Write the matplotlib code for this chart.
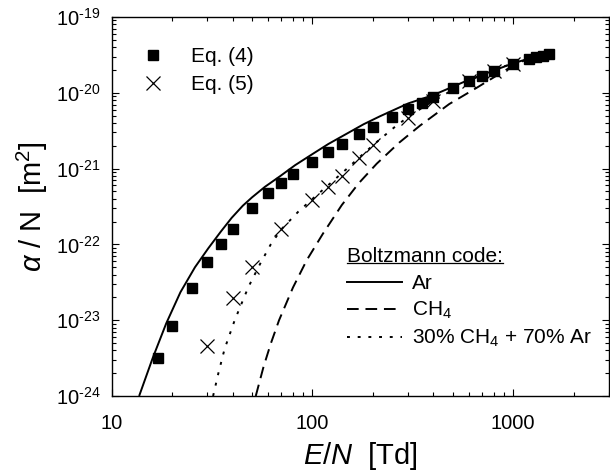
import numpy as np
import matplotlib
matplotlib.use("Agg")
import matplotlib.pyplot as plt
from matplotlib.ticker import FuncFormatter, NullFormatter, LogLocator, FixedLocator
from matplotlib.lines import Line2D

plt.rcParams['font.family'] = ['Liberation Sans', 'DejaVu Sans']
plt.rcParams['mathtext.fontset'] = 'custom'
plt.rcParams['mathtext.rm'] = 'Liberation Sans'
plt.rcParams['mathtext.it'] = 'Liberation Sans:italic'
plt.rcParams['mathtext.bf'] = 'Liberation Sans:bold'

# Eq. (4) - squares
E_eq4 = [17, 20, 25, 30, 35, 40, 50, 60, 70, 80, 100, 120, 140, 170, 200, 250, 300,
         350, 400, 500, 600, 700, 800, 1000, 1200, 1300, 1400, 1500]
a_eq4 = [3.2e-24, 8.5e-24, 2.65e-23, 5.8e-23, 1.0e-22, 1.6e-22, 3.0e-22, 4.7e-22,
         6.5e-22, 8.4e-22, 1.23e-21, 1.66e-21, 2.14e-21, 2.84e-21, 3.5e-21, 4.76e-21,
         6.07e-21, 7.35e-21, 8.8e-21, 1.14e-20, 1.42e-20, 1.67e-20, 1.92e-20, 2.4e-20,
         2.8e-20, 2.99e-20, 3.1e-20, 3.25e-20]

# Eq. (5) - crosses
E_eq5 = [30, 40, 50, 70, 100, 120, 140, 170, 200, 300, 400, 600, 800, 1000]
a_eq5 = [4.56e-24, 1.98e-23, 5.07e-23, 1.6e-22, 3.8e-22, 5.74e-22, 8.0e-22, 1.36e-21,
         2.03e-21, 4.67e-21, 7.7e-21, 1.42e-20, 1.96e-20, 2.43e-20]

# Boltzmann code, Ar
E_ar = [13.7, 16, 18.7, 22, 26, 30.3, 35, 39.6, 45, 50, 58, 69, 82, 101, 120, 148, 180,
        217, 300, 400, 600, 1000, 1600]
a_ar = [1e-24, 3.16e-24, 9.1e-24, 2.34e-23, 5.0e-23, 8.9e-23, 1.48e-22, 2.24e-22, 3.24e-22,
        4.17e-22, 5.75e-22, 7.94e-22, 1.11e-21, 1.58e-21, 2.11e-21, 2.88e-21, 3.85e-21,
        4.9e-21, 7.24e-21, 9.33e-21, 1.48e-20, 2.45e-20, 3.55e-20]

# Boltzmann code, CH4
E_ch4 = [52.2, 57, 62, 68.2, 80, 93.7, 112.7, 140, 170, 209, 270, 344, 480, 660, 1000, 1200]
a_ch4 = [1e-24, 2.4e-24, 4.9e-24, 1e-23, 2.7e-23, 6.2e-23, 1.38e-22, 3.3e-22, 6.4e-22,
         1.16e-21, 2.19e-21, 3.7e-21, 7.1e-21, 1.17e-20, 2.29e-20, 2.85e-20]

# Boltzmann code, 30% CH4 + 70% Ar
E_mix = [32, 34, 36.5, 41, 48, 55, 62, 70, 85, 100, 122, 150, 175, 209, 260, 318, 400,
         589, 800, 1000, 1500]
a_mix = [1e-24, 2.0e-24, 4.17e-24, 1e-23, 2.75e-23, 5.6e-23, 1e-22, 1.58e-22, 2.7e-22,
         3.98e-22, 6.3e-22, 1.02e-21, 1.48e-21, 2.24e-21, 3.63e-21, 5.37e-21, 7.76e-21,
         1.41e-20, 2.0e-20, 2.45e-20, 3.3e-20]

y_major = [1e-24, 1e-23, 1e-22, 1e-21, 1e-20, 1e-19]

fig = plt.figure(figsize=(6.10, 4.73), dpi=100)
ax = fig.add_axes([0.1831, 0.1628, 0.8152, 0.8013])

lw = 1.4
ax.plot(E_ar, a_ar, color='black', lw=lw, solid_capstyle='butt', solid_joinstyle='round')
ax.plot(E_ch4, a_ch4, color='black', lw=lw, dashes=(6, 3.5))
ax.plot(E_mix, a_mix, color='black', lw=lw, dashes=(1.5, 4.0))
sq, = ax.plot(E_eq4, a_eq4, 's', color='black', ms=6.5, ls='none')
cr, = ax.plot(E_eq5, a_eq5, 'x', color='black', ms=10, mew=0.9, ls='none')

ax.set_xscale('log')
ax.set_yscale('log')
ax.set_xlim(10, 3000)
ax.set_ylim(1e-24, 1e-19)

ax.xaxis.set_major_formatter(FuncFormatter(lambda v, p: '%d' % round(v)))
ax.xaxis.set_minor_formatter(NullFormatter())
ax.yaxis.set_major_locator(FixedLocator(y_major))
ax.yaxis.set_minor_locator(LogLocator(base=10, subs=np.arange(2, 10), numticks=20))
ax.yaxis.set_minor_formatter(NullFormatter())
ax.yaxis.set_major_formatter(
    FuncFormatter(lambda v, p: r'10$^{\text{%d}}$' % round(np.log10(v))))

ax.tick_params(which='both', direction='in', top=True, right=True, labelsize=14.5, width=0.8)
ax.tick_params(which='major', length=5, pad=8)
ax.tick_params(axis='x', which='major', pad=13)
ax.tick_params(which='minor', length=3)
for s in ax.spines.values():
    s.set_linewidth(1.0)

ax.set_xlabel(r'$\it{E/N}$  [Td]', fontsize=21, labelpad=5)
ax.set_ylabel(r'$\alpha$ / N  [m$^2$]', fontsize=21, labelpad=4)

leg1 = ax.legend([sq, cr], ['Eq. (4)', 'Eq. (5)'], loc='upper left',
                 bbox_to_anchor=(0.052, 0.92), frameon=False, fontsize=15,
                 handlelength=1.5, handletextpad=1.05, labelspacing=0.42,
                 borderaxespad=0, borderpad=0)
ax.add_artist(leg1)

h_ar = Line2D([], [], color='black', lw=lw)
h_ch4 = Line2D([], [], color='black', lw=lw, dashes=(6, 3.5))
h_mix = Line2D([], [], color='black', lw=lw, dashes=(1.5, 4.0))
leg2 = ax.legend([h_ar, h_ch4, h_mix], ['Ar', 'CH$_4$', r'30% CH$_4$ + 70% Ar'],
                 loc='upper left', bbox_to_anchor=(0.4726, 0.393), frameon=False,
                 fontsize=15, title='Boltzmann code:', title_fontsize=15,
                 alignment='left', handlelength=2.65, handletextpad=0.5,
                 labelspacing=0.32, borderaxespad=0, borderpad=0)
leg2._legend_box.sep = 6

fig.canvas.draw()
tb = leg2.get_title().get_window_extent()
inv = fig.transFigure.inverted()
(x0, y0), (x1, y1) = inv.transform([[tb.x0, tb.y0], [tb.x1, tb.y0]])
fig.add_artist(Line2D([x0, x1], [y0 + 0.006, y0 + 0.006], color='black', lw=0.9,
                      transform=fig.transFigure))

fig.savefig('out.png', dpi=100)
